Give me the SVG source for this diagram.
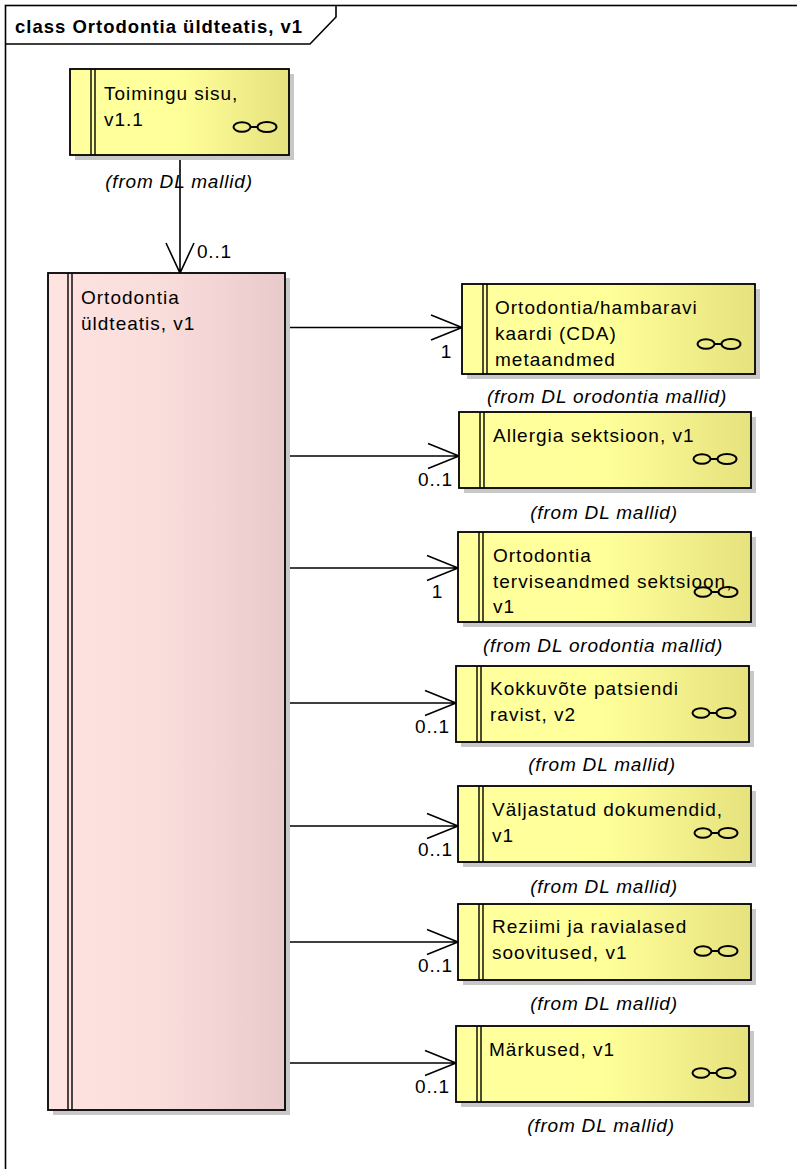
<svg xmlns="http://www.w3.org/2000/svg" width="797" height="1169" viewBox="0 0 797 1169">
<defs>
<linearGradient id="gy" x1="0" y1="0" x2="1" y2="0">
<stop offset="0" stop-color="#FFFF9E"/>
<stop offset="0.5" stop-color="#FFFF9A"/>
<stop offset="1" stop-color="#E6E27E"/>
</linearGradient>
<linearGradient id="gp" x1="0" y1="0" x2="1" y2="0">
<stop offset="0" stop-color="#FFE3E1"/>
<stop offset="0.45" stop-color="#FADEDC"/>
<stop offset="1" stop-color="#E8CACA"/>
</linearGradient>
<g id="icon">
<ellipse cx="-35" cy="0" rx="8.5" ry="4.8"/>
<line x1="-26.5" y1="0" x2="-19" y2="0"/>
<ellipse cx="-10" cy="0" rx="9.5" ry="5"/>
</g>
</defs>
<style>
.frame{fill:none;stroke:#000;stroke-width:1.6}
.box{stroke:#000;stroke-width:1.8}
.y{fill:url(#gy)}
.p{fill:url(#gp)}
.sh{fill:#C8C8C8}
.bar{stroke:#000;stroke-width:1.4;fill:none}
.ic{fill:none;stroke:#000;stroke-width:2}
text{font-family:"Liberation Sans",Arial,sans-serif;fill:#000}
.t{font-size:19px;letter-spacing:1px}
.title{font-size:18.5px;font-weight:bold;letter-spacing:1px}
.from{font-size:19px;font-style:italic;letter-spacing:0.8px}
.m{font-size:19px;letter-spacing:0.8px}
.c{fill:none;stroke:#000;stroke-width:1.6}
</style>
<rect class="frame" x="5.5" y="5.5" width="820" height="1200"/>
<path class="frame" d="M5.5,44 H310 L336,17 V5.5"/>
<text class="title" x="15" y="32.5">class Ortodontia üldteatis, v1</text>

<g id="connectors">
<path class="c" d="M180,155 V273 M166,243 L180,273 L194,243"/>
<text class="m" x="197" y="258">0..1</text>
<path class="c" d="M285,327.5 H462 M431,315 L462,327.5 L431,340"/>
<text class="m" x="452" y="358" text-anchor="end">1</text>
<path class="c" d="M285,456 H459 M428,443.5 L459,456 L428,468.5"/>
<text class="m" x="453" y="486" text-anchor="end">0..1</text>
<path class="c" d="M285,568 H458 M427,555.5 L458,568 L427,580.5"/>
<text class="m" x="443" y="598" text-anchor="end">1</text>
<path class="c" d="M285,703 H456 M425,690.5 L456,703 L425,715.5"/>
<text class="m" x="450" y="733" text-anchor="end">0..1</text>
<path class="c" d="M285,826 H458 M427,813.5 L458,826 L427,838.5"/>
<text class="m" x="453" y="856" text-anchor="end">0..1</text>
<path class="c" d="M285,942 H458 M427,929.5 L458,942 L427,954.5"/>
<text class="m" x="453" y="972" text-anchor="end">0..1</text>
<path class="c" d="M285,1063 H456 M425,1050.5 L456,1063 L425,1075.5"/>
<text class="m" x="450" y="1093" text-anchor="end">0..1</text>
</g>

<g id="toimingu">
<rect class="sh" x="75" y="74" width="219" height="86"/>
<rect class="box y" x="70" y="69" width="219" height="86"/>
<path class="bar" d="M91,69 V155 M95,69 V155"/>
<text class="t" x="104" y="100">Toimingu sisu,</text>
<text class="t" x="104" y="126">v1.1</text>
<use href="#icon" class="ic" x="277" y="127"/>
<text class="from" x="179" y="188" text-anchor="middle">(from DL mallid)</text>
</g>

<g id="main">
<rect class="sh" x="53" y="278" width="237" height="837"/>
<rect class="box p" x="48" y="273" width="237" height="837"/>
<path class="bar" d="M68,273 V1110 M72,273 V1110"/>
<text class="t" x="81" y="304">Ortodontia</text>
<text class="t" x="81" y="330">üldteatis, v1</text>
</g>

<g id="b1">
<rect class="sh" x="467" y="289" width="293" height="90"/>
<rect class="box y" x="462" y="284" width="293" height="90"/>
<path class="bar" d="M483,284 V374 M487,284 V374"/>
<text class="t" x="495" y="314">Ortodontia/hambaravi</text>
<text class="t" x="495" y="340">kaardi (CDA)</text>
<text class="t" x="495" y="366">metaandmed</text>
<use href="#icon" class="ic" x="741" y="344"/>
<text class="from" x="607" y="403" text-anchor="middle">(from DL orodontia mallid)</text>
</g>

<g id="b2">
<rect class="sh" x="464" y="417" width="292" height="76"/>
<rect class="box y" x="459" y="412" width="292" height="76"/>
<path class="bar" d="M480,412 V488 M484,412 V488"/>
<text class="t" x="493" y="442">Allergia sektsioon, v1</text>
<use href="#icon" class="ic" x="737" y="459"/>
<text class="from" x="604" y="519" text-anchor="middle">(from DL mallid)</text>
</g>

<g id="b3">
<rect class="sh" x="463" y="537" width="293" height="90"/>
<rect class="box y" x="458" y="532" width="293" height="90"/>
<path class="bar" d="M479,532 V622 M483,532 V622"/>
<text class="t" x="493" y="562">Ortodontia</text>
<text class="t" x="493" y="588">terviseandmed sektsioon,</text>
<text class="t" x="493" y="613">v1</text>
<use href="#icon" class="ic" x="738" y="592"/>
<text class="from" x="603" y="652" text-anchor="middle">(from DL orodontia mallid)</text>
</g>

<g id="b4">
<rect class="sh" x="461" y="671" width="293" height="76"/>
<rect class="box y" x="456" y="666" width="293" height="76"/>
<path class="bar" d="M477,666 V742 M481,666 V742"/>
<text class="t" x="490" y="695">Kokkuvõte patsiendi</text>
<text class="t" x="490" y="721">ravist, v2</text>
<use href="#icon" class="ic" x="736" y="713"/>
<text class="from" x="602" y="771" text-anchor="middle">(from DL mallid)</text>
</g>

<g id="b5">
<rect class="sh" x="463" y="791" width="293" height="76"/>
<rect class="box y" x="458" y="786" width="293" height="76"/>
<path class="bar" d="M479,786 V862 M483,786 V862"/>
<text class="t" x="492" y="816">Väljastatud dokumendid,</text>
<text class="t" x="492" y="842">v1</text>
<use href="#icon" class="ic" x="738" y="833"/>
<text class="from" x="604" y="893" text-anchor="middle">(from DL mallid)</text>
</g>

<g id="b6">
<rect class="sh" x="463" y="909" width="293" height="76"/>
<rect class="box y" x="458" y="904" width="293" height="76"/>
<path class="bar" d="M479,904 V980 M483,904 V980"/>
<text class="t" x="492" y="933">Reziimi ja ravialased</text>
<text class="t" x="492" y="959">soovitused, v1</text>
<use href="#icon" class="ic" x="738" y="951"/>
<text class="from" x="604" y="1010" text-anchor="middle">(from DL mallid)</text>
</g>

<g id="b7">
<rect class="sh" x="461" y="1031" width="293" height="76"/>
<rect class="box y" x="456" y="1026" width="293" height="76"/>
<path class="bar" d="M477,1026 V1102 M481,1026 V1102"/>
<text class="t" x="489" y="1056">Märkused, v1</text>
<use href="#icon" class="ic" x="736" y="1073"/>
<text class="from" x="601" y="1132" text-anchor="middle">(from DL mallid)</text>
</g>
</svg>
